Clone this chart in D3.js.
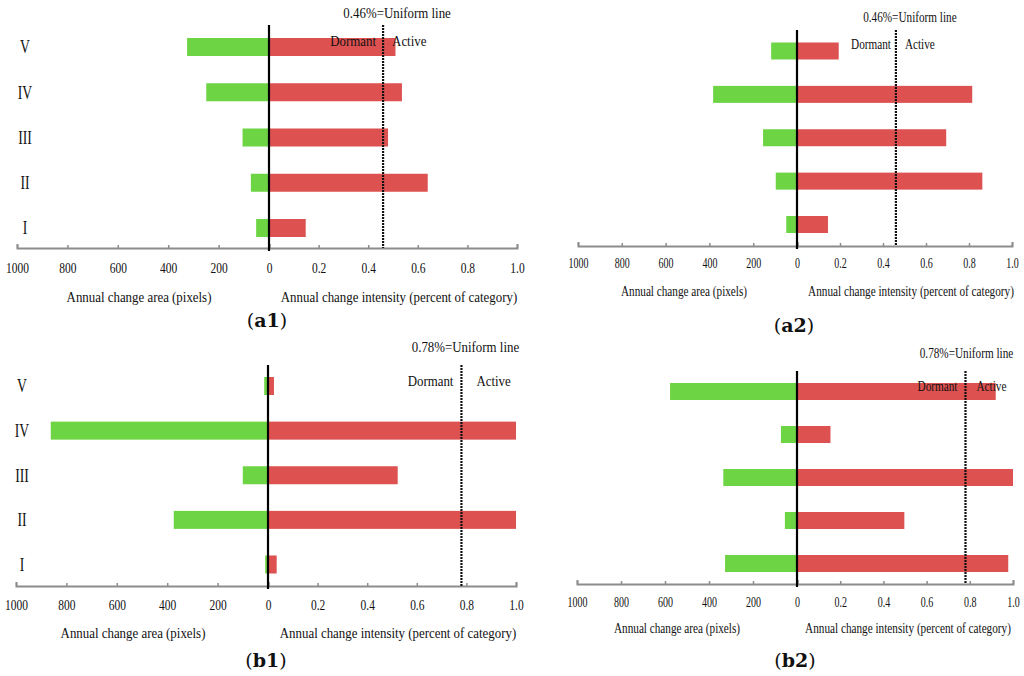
<!DOCTYPE html>
<html>
<head>
<meta charset="utf-8">
<script src="https://cdn.jsdelivr.net/npm/d3@7"></script>
<style>
  html, body { margin: 0; padding: 0; background: #fff; }
  svg { display: block; }
  text { font-family: "Liberation Serif", "Times New Roman", serif; fill: #111; }
</style>
</head>
<body>
<svg id="chart" width="1024" height="676"></svg>
<script>
// ---------------- DATA ----------------
const categories = ["I", "II", "III", "IV", "V"];
const areaTicks = [1000, 800, 600, 400, 200, 0];
const intensityTicks = [0.2, 0.4, 0.6, 0.8, 1.0];

// Annual change area (pixels), per category I..V
const a1Area = [51, 72, 105, 249, 325];
const a2Area = [49, 97, 155, 383, 118];
const b1Area = [11, 374, 100, 862, 15];
const b2Area = [327, 55, 335, 73, 577];

// Annual change intensity (percent of category), per category I..V
const a1Intensity = [0.148, 0.64, 0.48, 0.536, 0.51];
const a2Intensity = [0.144, 0.862, 0.694, 0.815, 0.194];
const b1Intensity = [0.035, 1.0, 0.523, 1.0, 0.024];
const b2Intensity = [0.978, 0.497, 1.0, 0.155, 0.92];

const uniformA = 0.46;
const uniformB = 0.78;
const uniformLabels = ["0.46%=Uniform line", "0.78%=Uniform line"];

const captions = ["a1", "a2", "b1", "b2"];

// ---------------- LAYOUT ----------------
const panels = [
  { cap: captions[0], area: a1Area, inten: a1Intensity, uni: uniformA, uniText: uniformLabels[0], showCats: true,
    left: 17, zero: 269, right: 517, axisY: 248, top: 25, yI: 228, yV: 47, barH: 18, sx: 1,
    catX: 25, uniDx: 14, uniDy: -12, dormDx: -7, actDx: 9, labDy: 16,
    tickDy: 20, titleDy: 49, leftTitleX: 139, rightTitleX: 399, capX: 267, capY: 320 },
  { cap: captions[1], area: a2Area, inten: a2Intensity, uni: uniformA, uniText: uniformLabels[0], showCats: false,
    left: 578, zero: 797, right: 1012, axisY: 246, top: 30, yI: 224.5, yV: 51, barH: 17, sx: 0.87,
    catX: 0, uniDx: 14, uniDy: -13, dormDx: -5, actDx: 9, labDy: 14,
    tickDy: 17, titleDy: 45, leftTitleX: 684, rightTitleX: 911, capX: 794, capY: 325 },
  { cap: captions[2], area: b1Area, inten: b1Intensity, uni: uniformB, uniText: uniformLabels[1], showCats: true,
    left: 16, zero: 268, right: 516, axisY: 586, top: 365, yI: 564.5, yV: 386, barH: 18, sx: 1,
    catX: 22, uniDx: 4, uniDy: -18, dormDx: -8, actDx: 15, labDy: 16,
    tickDy: 19, titleDy: 47, leftTitleX: 133, rightTitleX: 398, capX: 266, capY: 660 },
  { cap: captions[3], area: b2Area, inten: b2Intensity, uni: uniformB, uniText: uniformLabels[1], showCats: false,
    left: 577, zero: 797, right: 1013, axisY: 584, top: 371, yI: 563.5, yV: 391.5, barH: 17, sx: 0.87,
    catX: 0, uniDx: 1, uniDy: -18, dormDx: -8, actDx: 11, labDy: 15,
    tickDy: 18, titleDy: 44, leftTitleX: 677, rightTitleX: 908, capX: 795, capY: 660 }
];

const GREEN = "#6dd444";
const RED = "#dd5151";
const AXIS = "#8c8c8c";
const TEXT_SIZE = 15, TEXT_SX = 0.86;
const TICK_SIZE = 14, TICK_SX = 0.82;

const svg = d3.select("#chart");

function label(g, x, y, str, opts) {
  const sx = opts.sx == null ? 1 : opts.sx;
  return g.append("text")
    .attr("transform", `translate(${x},${y}) scale(${sx},1)`)
    .attr("text-anchor", opts.anchor || "middle")
    .attr("dy", "0.35em")
    .style("font-size", (opts.size || 13) + "px")
    .text(str);
}

panels.forEach(p => {
  const g = svg.append("g");

  const xArea = d3.scaleLinear().domain([0, 1000]).range([p.zero, p.left]);
  const xInt = d3.scaleLinear().domain([0, 1]).range([p.zero, p.right]);
  const y = d3.scalePoint().domain(categories).range([p.yI, p.yV]);

  const rows = categories.map((c, i) => ({ cat: c, area: p.area[i], inten: p.inten[i] }));

  // green bars (area, to the left)
  g.selectAll(".ga").data(rows).join("rect")
    .attr("x", d => xArea(d.area))
    .attr("y", d => y(d.cat) - p.barH / 2)
    .attr("width", d => xArea(0) - xArea(d.area))
    .attr("height", p.barH)
    .attr("fill", GREEN);

  // red bars (intensity, to the right)
  g.selectAll(".ri").data(rows).join("rect")
    .attr("x", xInt(0))
    .attr("y", d => y(d.cat) - p.barH / 2)
    .attr("width", d => xInt(Math.min(d.inten, 1)) - xInt(0))
    .attr("height", p.barH)
    .attr("fill", RED);

  // axes
  const axL = d3.axisBottom(xArea).tickValues(areaTicks).tickSizeInner(-3).tickSizeOuter(-4).tickFormat(d3.format("d"));
  const axR = d3.axisBottom(xInt).tickValues(intensityTicks).tickSizeInner(-3).tickSizeOuter(-4).tickFormat(d3.format(".1f"));

  [axL, axR].forEach(ax => {
    const ga = g.append("g").attr("transform", `translate(0,${p.axisY})`).call(ax);
    ga.attr("font-size", null).attr("font-family", null);
    ga.select(".domain").attr("stroke", AXIS).attr("stroke-width", 2).attr("fill", "none");
    ga.selectAll(".tick line").attr("stroke", AXIS).attr("stroke-width", 1.5);
    ga.selectAll(".tick text")
      .attr("y", p.tickDy)
      .attr("dy", "0.35em")
      .attr("transform", `scale(${TICK_SX * p.sx},1)`)
      .attr("fill", "#111")
      .style("font-family", "'Liberation Serif', serif")
      .style("font-size", TICK_SIZE + "px");
  });

  // uniform (dotted) line
  g.append("line")
    .attr("x1", xInt(p.uni)).attr("x2", xInt(p.uni))
    .attr("y1", p.top).attr("y2", p.axisY)
    .attr("stroke", "#111").attr("stroke-width", 2.2)
    .attr("stroke-dasharray", "2,1");

  // zero line
  g.append("line")
    .attr("x1", p.zero).attr("x2", p.zero)
    .attr("y1", p.top).attr("y2", p.axisY + 3)
    .attr("stroke", "#000").attr("stroke-width", 2.2);

  // category labels
  if (p.showCats) {
    categories.forEach(c => label(g, p.catX, y(c), c, { size: 18, sx: 0.76 }));
  }

  const tsx = TEXT_SX * p.sx;
  // uniform annotation
  label(g, xInt(p.uni) + p.uniDx, p.top + p.uniDy, p.uniText, { size: TEXT_SIZE, sx: tsx });
  label(g, xInt(p.uni) + p.dormDx, p.top + p.labDy, "Dormant", { size: TEXT_SIZE, sx: tsx, anchor: "end" });
  label(g, xInt(p.uni) + p.actDx, p.top + p.labDy, "Active", { size: TEXT_SIZE, sx: tsx, anchor: "start" });

  // axis titles
  label(g, p.leftTitleX, p.axisY + p.titleDy, "Annual change area (pixels)", { size: TEXT_SIZE, sx: tsx });
  label(g, p.rightTitleX, p.axisY + p.titleDy, "Annual change intensity (percent of category)", { size: TEXT_SIZE, sx: tsx });

  // caption
  const cap = g.append("text")
    .attr("transform", `translate(${p.capX},${p.capY})`)
    .attr("text-anchor", "middle").attr("dy", "0.35em")
    .style("font-family", "'DejaVu Serif', serif")
    .style("font-size", "19px");
  cap.append("tspan").text("(");
  cap.append("tspan").style("font-weight", "bold").text(p.cap);
  cap.append("tspan").text(")");
});
</script>
</body>
</html>
